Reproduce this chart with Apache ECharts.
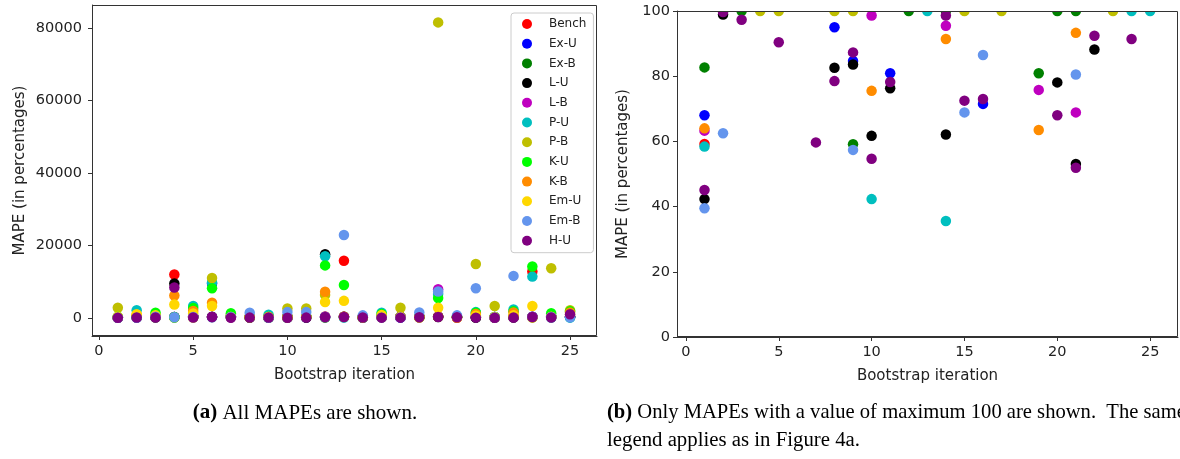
<!DOCTYPE html>
<html>
<head>
<meta charset="utf-8">
<script src="https://cdn.jsdelivr.net/npm/echarts@6/dist/echarts.min.js"></script>
<style>
html,body{margin:0;padding:0;background:#fff;}
#chart{width:1180px;height:459px;}
</style>
</head>
<body>
<div id="chart"></div>
<script>
// ---- data ----
const iterations = [1,2,3,4,5,6,7,8,9,10,11,12,13,14,15,16,17,18,19,20,21,22,23,24,25];
const seriesNames = ['Bench','Ex-U','Ex-B','L-U','L-B','P-U','P-B','K-U','K-B','Em-U','Em-B','H-U'];
const seriesColors = ['#ff0000','#0000ff','#008000','#000000','#bf00bf','#00bfbf','#bfbf00','#00ff00','#ff8c00','#ffd700','#6495ed','#800080'];

const bench = [59.2,310,240,12000,420,280,350,190,260,330,210,380,15800,270,230,310,180,360,250,290,220,340,12800,260,300];
const exU   = [68.0,280,330,250,300,9500,260,95.0,84.7,310,80.9,270,240,290,330,71.5,220,350,260,300,280,240,310,270,230];
const exB   = [82.7,260,100,220,310,240,350,280,59.1,300,270,100,330,100,250,290,310,260,80.9,100,100,280,240,320,270];
const lU    = [42.3,98.9,280,9500,250,310,230,82.6,83.6,61.7,76.3,17600,300,62.1,270,240,330,290,250,78.1,53.1,88.2,260,310,280];
const lB    = [63.3,300,250,230,340,280,260,310,240,98.6,290,270,320,95.5,250,300,230,7900,75.8,280,68.9,260,330,240,300];
const pU    = [58.4,2100,280,200,3300,9800,330,260,900,42.3,310,17000,100,35.6,1400,290,250,6600,320,1600,270,2300,11400,100,100];
const pB    = [2800,300,900,100,100,11000,900,100,100,2600,2600,6300,280,310,100,2800,100,81600,260,14900,3300,330,100,13700,2100];
const kU    = [310,260,1400,200,2700,8200,1300,280,330,250,300,14500,9100,270,1100,240,310,5500,290,1400,260,1800,14200,1300,1800];
const kB    = [64.0,900,300,6200,1900,4200,270,350,240,75.5,310,7200,290,91.4,260,330,280,300,63.5,1100,93.3,1500,250,320,1500];
const emU   = [330,1000,700,3700,1200,3300,260,310,280,300,240,4400,4700,270,800,250,290,2800,330,600,260,700,3300,280,900];
const emB   = [39.5,62.5,300,200,260,150,280,1400,57.4,1600,1600,330,22900,700,68.9,86.5,1500,7300,700,8200,80.5,11600,300,250,150];
const hU    = [45.1,99.7,97.3,8400,90.4,220,59.7,78.5,87.3,54.7,78.2,260,240,98.6,72.5,73.0,200,230,180,68.0,51.9,92.4,250,91.4,1000];
const seriesValues = [bench,exU,exB,lU,lB,pU,pB,kU,kB,emU,emB,hU];

const xTicks = [0,5,10,15,20,25];
const yTicksAll = [0,20000,40000,60000,80000];
const yTicksMax100 = [0,20,40,60,80,100];
const maxShownRight = 100;

// ---- layout ----
const GL = {left:92, top:5, width:505, height:331};
const GR = {left:677, top:11, width:501, height:326};
const sans = 'DejaVu Sans';
const serif = 'Liberation Serif';
const txt = '#222';
const frameColor = '#333';
const plain = v => String(v);

function axisX(idx, min, max){
  return {
    gridIndex: idx, type:'value', min:min, max:max,
    name:'Bootstrap iteration', nameLocation:'middle', nameGap:32,
    nameTextStyle:{fontFamily:sans, fontSize:15, color:txt},
    axisLine:{show:true, onZero:false, lineStyle:{color:frameColor, width:1}},
    axisTick:{show:true, length:4, lineStyle:{color:frameColor, width:1}, customValues:xTicks},
    axisLabel:{fontFamily:sans, fontSize:14.5, color:txt, margin:8, formatter:plain, customValues:xTicks},
    splitLine:{show:false}
  };
}
function axisY(idx, min, max, ticks, gap, margin){
  return {
    gridIndex: idx, type:'value', min:min, max:max,
    name:'MAPE (in percentages)', nameLocation:'middle', nameGap:gap,
    nameTextStyle:{fontFamily:sans, fontSize:15, color:txt},
    axisLine:{show:true, onZero:false, lineStyle:{color:frameColor, width:1}},
    axisTick:{show:true, length:4, lineStyle:{color:frameColor, width:1}, customValues:ticks},
    axisLabel:{fontFamily:sans, fontSize:14.5, color:txt, margin:margin, formatter:plain, customValues:ticks},
    splitLine:{show:false}
  };
}

const series = [];
seriesNames.forEach((name, s) => {
  series.push({
    name:name, type:'scatter', xAxisIndex:0, yAxisIndex:0,
    symbol:'circle', symbolSize:10.5,
    itemStyle:{color:seriesColors[s], opacity:1},
    emphasis:{disabled:true},
    data: iterations.map((it,k) => [it, seriesValues[s][k]])
  });
});
seriesNames.forEach((name, s) => {
  series.push({
    name:name, type:'scatter', xAxisIndex:1, yAxisIndex:1,
    symbol:'circle', symbolSize:10.5, clip:false,
    itemStyle:{color:seriesColors[s], opacity:1},
    emphasis:{disabled:true},
    data: iterations.map((it,k) => [it, seriesValues[s][k]]).filter(p => p[1] <= maxShownRight)
  });
});

const option = {
  animation:false,
  backgroundColor:'#fff',
  grid:[
    {left:GL.left, top:GL.top, width:GL.width, height:GL.height, containLabel:false},
    {left:GR.left, top:GR.top, width:GR.width, height:GR.height, containLabel:false}
  ],
  xAxis:[axisX(0,-0.37,26.43), axisX(1,-0.48,26.5)],
  yAxis:[axisY(0,-5000,86400,yTicksAll,64,10), axisY(1,0,100,yTicksMax100,46,7)],
  legend:{
    data: seriesNames.map(n => ({name:n, icon:'circle'})),
    orient:'vertical', left:511, top:13,
    itemWidth:10, itemHeight:10, itemGap:7.7,
    padding:[5,7,6,11],
    borderColor:'#cccccc', borderWidth:1, borderRadius:3,
    backgroundColor:'rgba(255,255,255,0.8)',
    selectedMode:false,
    textStyle:{fontFamily:sans, fontSize:12, lineHeight:12, color:txt, padding:[0,0,0,12]}
  },
  graphic:[
    {type:'rect', z:90, silent:true, shape:{x:GR.left+1, y:0, width:GR.width-1, height:GR.top}, style:{fill:'#fff'}},
    {type:'rect', z:100, silent:true, shape:{x:GL.left+0.5, y:GL.top+0.5, width:GL.width-1, height:GL.height-1}, style:{fill:'none', stroke:frameColor, lineWidth:1}},
    {type:'rect', z:100, silent:true, shape:{x:GR.left+0.5, y:GR.top+0.5, width:GR.width-1, height:GR.height-1}, style:{fill:'none', stroke:frameColor, lineWidth:1}},
    {type:'text', z:100, silent:true, style:{
      text:'{b|(a)} All MAPEs are shown.', x:305, y:413, align:'center', verticalAlign:'middle',
      fontFamily:serif, fontSize:21, fill:'#000',
      rich:{b:{fontFamily:serif, fontSize:21, fontWeight:'bold', fill:'#000'}}
    }},
    {type:'text', z:100, silent:true, style:{
      text:'{b|(b)} Only MAPEs with a value of maximum 100 are shown.  The same', x:607, y:413, align:'left', verticalAlign:'middle',
      fontFamily:serif, fontSize:20.6, fill:'#000',
      rich:{b:{fontFamily:serif, fontSize:20.6, fontWeight:'bold', fill:'#000'}}
    }},
    {type:'text', z:100, silent:true, style:{
      text:'legend applies as in Figure 4a.', x:607, y:441, align:'left', verticalAlign:'middle',
      fontFamily:serif, fontSize:20.8, fill:'#000'
    }}
  ],
  series: series
};

const chart = echarts.init(document.getElementById('chart'), null, {renderer:'canvas'});
chart.setOption(option);
</script>
</body>
</html>
